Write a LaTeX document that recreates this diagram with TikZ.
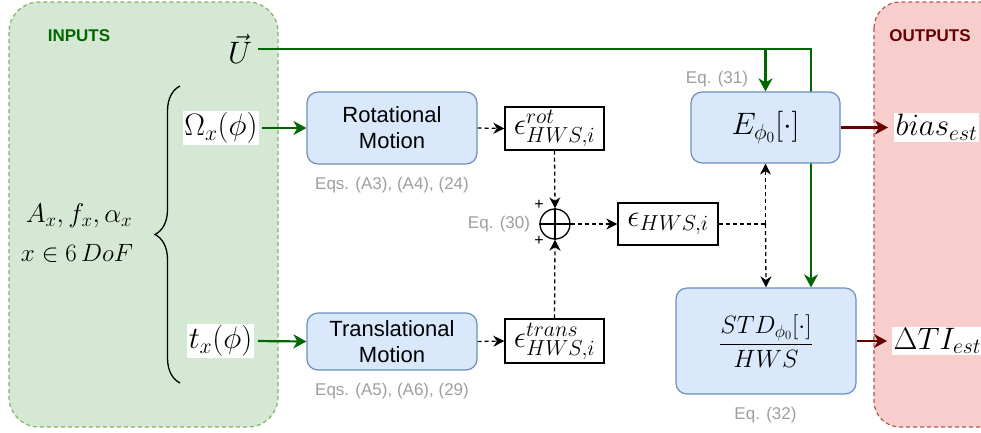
\documentclass[tikz,border=0pt]{standalone}
\usepackage{fix-cm}
\usepackage{fontspec}
\setmainfont{Liberation Sans}
\usetikzlibrary{arrows.meta,calc,decorations.pathreplacing}
\definecolor{gfill}{HTML}{D5E8D4}
\definecolor{gline}{HTML}{82B366}
\definecolor{rfill}{HTML}{F8CECC}
\definecolor{rline}{HTML}{B85450}
\definecolor{bfill}{HTML}{DAE8FC}
\definecolor{bline}{HTML}{6C8EBF}
\definecolor{dgreen}{HTML}{006600}
\definecolor{dred}{HTML}{660000}
\definecolor{eqgray}{HTML}{9E9E9E}
\pgfdeclarelayer{bg}
\pgfdeclarelayer{edges}
\pgfsetlayers{bg,edges,main}
\tikzset{
  proc/.style={draw=bline, fill=bfill, line width=1.2pt, rounded corners=11pt, align=center,
    font=\fontsize{22}{26}\selectfont},
  epsbox/.style={draw=black, fill=white, line width=1.3pt, inner sep=1pt,
    font=\fontsize{31}{34}\selectfont},
  mlabel/.style={fill=white, inner sep=1.5pt, font=\fontsize{31}{34}\selectfont},
  eqlbl/.style={text=eqgray, font=\fontsize{17}{20}\selectfont},
  title/.style={font=\fontsize{17}{20}\selectfont\bfseries},
  garrow/.style={draw=dgreen, line width=2.2pt, -{Stealth[length=13pt,width=14pt,inset=4pt]}},
  rarrow/.style={draw=dred, line width=2.2pt, -{Stealth[length=13pt,width=14pt,inset=4pt]}},
  darrow/.style={draw=black, line width=1.3pt, dash pattern=on 4pt off 3pt,
    -{Stealth[length=11pt,width=11pt,inset=3.5pt]}},
  dline/.style={draw=black, line width=1.3pt, dash pattern=on 4pt off 3pt},
}
\begin{document}
\begin{tikzpicture}[x=1pt,y=-1pt]
\useasboundingbox (0,0) rectangle (981,432);

% group boxes
\begin{pgfonlayer}{bg}
  \begin{scope}
    \clip (0,0) rectangle (981,432);
    \draw[fill=gfill, draw=gline, line width=1.2pt, dash pattern=on 4pt off 3pt, rounded corners=30pt]
      (9,2) rectangle (278,427);
    \draw[fill=rfill, draw=rline, line width=1.2pt, dash pattern=on 4pt off 3pt, rounded corners=26pt]
      (874,2) rectangle (1030,427);
  \end{scope}
\end{pgfonlayer}

\node[title, text=dgreen] (tin) at (79,36) {INPUTS};
\node[title, text=dred] (tout) at (930,36) {OUTPUTS};

% inputs
\node[font=\fontsize{31}{34}\selectfont, inner sep=2pt] (U) at (240,49) {$\vec{U}$};
\node[mlabel] (Om) at (221,128) {$\Omega_x(\phi)$};
\node[mlabel] (tx) at (220.5,341) {$t_x(\phi)$};
\node[font=\fontsize{27}{32}\selectfont] (Ax) at (79,216) {$A_x, f_x, \alpha_x$};
\node[font=\fontsize{25}{30}\selectfont] (dof) at (77,253) {$x \in 6\,DoF$};
\coordinate (bt) at (180,86);
\coordinate (bb) at (180,383);
\draw[line width=1.3pt, decorate, decoration={brace, amplitude=25pt, aspect=0.5}] (bb) -- (bt);

% process boxes
\node[proc, minimum width=170pt, minimum height=72pt] (Rot) at (392,128) {Rotational\\Motion};
\node[proc, minimum width=170pt, minimum height=57pt] (Tra) at (392,341.5) {Translational\\Motion};
\node[eqlbl] (eqrot) at (392,185) {Eqs. (A3), (A4), (24)};
\node[eqlbl] (eqtra) at (392,391) {Eqs. (A5), (A6), (29)};

\node[epsbox, minimum width=99pt, minimum height=43pt] (er) at (554.5,128.5) {$\epsilon^{rot}_{HWS,i}$};
\node[epsbox, minimum width=99pt, minimum height=44pt] (et) at (554.5,341) {$\epsilon^{trans}_{HWS,i}$};
\node[epsbox, minimum width=100pt, minimum height=42pt] (eh) at (668,224) {$\epsilon_{HWS,i}$};

\node[draw=black, line width=1.3pt, circle, minimum size=30pt, inner sep=0pt] (sum) at (555,224) {};
\draw[line width=1.3pt] (sum.north) -- (sum.south) (sum.west) -- (sum.east);
\node[font=\fontsize{16}{18}\selectfont, inner sep=0pt] (p1) at (539,205) {+};
\node[font=\fontsize{16}{18}\selectfont, inner sep=0pt] (p2) at (539,241) {+};
\node[eqlbl] (eq30) at (499,224) {Eq. (30)};

\node[proc, minimum width=149pt, minimum height=71pt, font=\fontsize{31}{34}\selectfont] (E) at (765.5,127.5) {$E_{\phi_0}[\cdot]$};
\node[proc, minimum width=180pt, minimum height=106pt, font=\fontsize{25}{29}\selectfont] (S) at (766,341) {$\displaystyle\frac{STD_{\phi_0}[\cdot]}{HWS}$};
\node[eqlbl] (eq31) at (717,79) {Eq. (31)};
\node[eqlbl] (eq32) at (765.5,415) {Eq. (32)};

% outputs
\node[mlabel, anchor=west] (bias) at (894,127.5) {$bias_{est}$};
\node[mlabel, anchor=west] (dti) at (892,341) {$\Delta TI_{est}$};

% connectors
\begin{pgfonlayer}{edges}
  \draw[garrow, shorten <=4pt] (U.east) -| ([xshift=45pt]S.north);
  \coordinate (jE) at (E.north |- U.east);
  \draw[garrow] (jE) -- (E.north);
  \draw[garrow, shorten <=3pt] (Om.east) -- (Rot.west);
  \draw[garrow, shorten <=4pt] (tx.east) -- (Tra.west);
  \draw[darrow] (Rot.east) -- (er.west);
  \draw[darrow] (Tra.east) -- (et.west);
  \draw[darrow] (er.south) -- (sum.north);
  \draw[darrow] (et.north) -- (sum.south);
  \draw[darrow] (sum.east) -- (eh.west);
  \coordinate (k) at (eh.east -| E.south);
  \draw[dline] (eh.east) -- (k);
  \draw[darrow] (k) -- (E.south);
  \draw[darrow] (k) -- (S.north);
  \draw[rarrow, shorten >=6pt] (E.east) -- (bias.west);
  \draw[rarrow, shorten >=5pt] (S.east) -- (dti.west);
\end{pgfonlayer}
\end{tikzpicture}
\end{document}
